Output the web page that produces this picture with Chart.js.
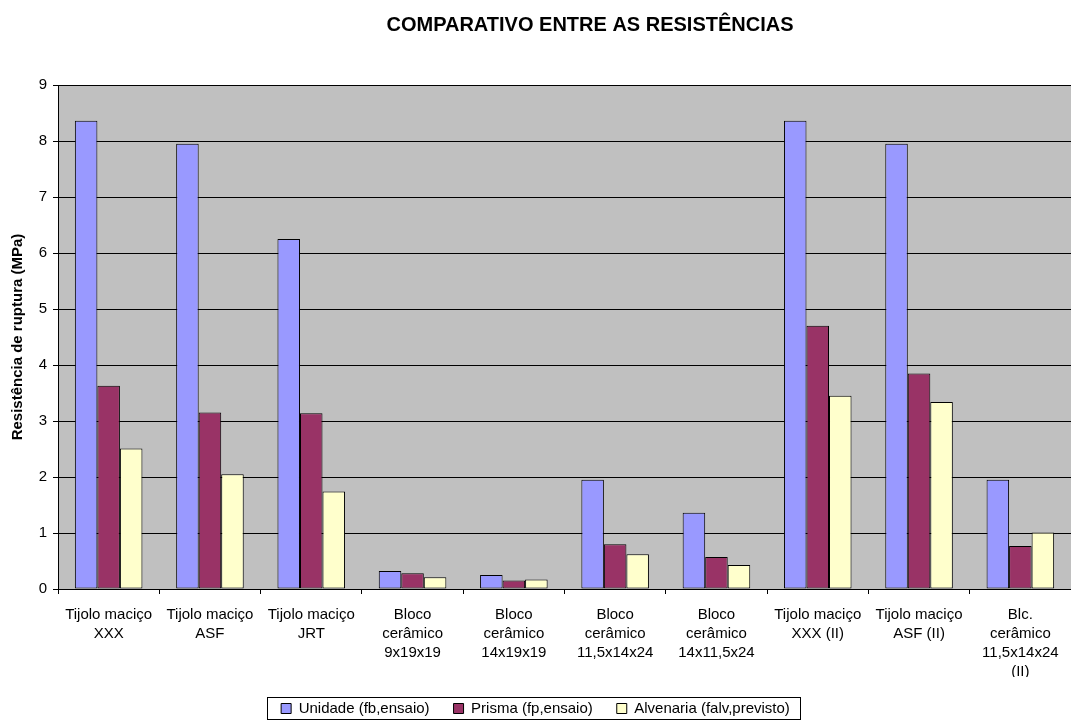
<!DOCTYPE html>
<html>
<head>
<meta charset="utf-8">
<script src="https://cdn.jsdelivr.net/npm/chart.js@4.4.0/dist/chart.umd.min.js"></script>
<style>
  body { margin: 0; background: #fff; }
  canvas { display: block; }
</style>
</head>
<body>
<canvas id="chart" width="1071" height="723"></canvas>
<script>
// data
const categories = [
  ["Tijolo maciço", "XXX"],
  ["Tijolo maciço", "ASF"],
  ["Tijolo maciço", "JRT"],
  ["Bloco", "cerâmico", "9x19x19"],
  ["Bloco", "cerâmico", "14x19x19"],
  ["Bloco", "cerâmico", "11,5x14x24"],
  ["Bloco", "cerâmico", "14x11,5x24"],
  ["Tijolo maciço", "XXX (II)"],
  ["Tijolo maciço", "ASF (II)"],
  ["Blc.", "cerâmico", "11,5x14x24", "(II)"]
];
const unidade = [8.36, 7.95, 6.25, 0.32, 0.25, 1.95, 1.36, 8.36, 7.95, 1.95];
const prisma = [3.63, 3.15, 3.14, 0.28, 0.15, 0.80, 0.57, 4.70, 3.85, 0.77];
const alvenaria = [2.51, 2.05, 1.74, 0.21, 0.17, 0.62, 0.43, 3.45, 3.34, 1.01];
const seriesNames = ["Unidade (fb,ensaio)", "Prisma (fp,ensaio)", "Alvenaria (falv,previsto)"];
const yMin = 0, yMax = 9, yStep = 1;

const titleText = "COMPARATIVO ENTRE AS RESISTÊNCIAS";
const yTitle = "Resistência de ruptura (MPa)";

const FONT = "'Liberation Sans', Arial, sans-serif";

// gray plot background
const plotBg = {
  id: 'plotBg',
  beforeDraw(chart) {
    const a = chart.chartArea, ctx = chart.ctx;
    ctx.save();
    ctx.fillStyle = '#C0C0C0';
    ctx.fillRect(a.left, a.top, a.right - a.left, a.bottom - a.top);
    ctx.restore();
  }
};

// title + legend frame
const extras = {
  id: 'extras',
  afterDraw(chart) {
    const ctx = chart.ctx;
    ctx.save();
    ctx.fillStyle = '#000';
    ctx.font = "bold 20px " + FONT;
    ctx.textAlign = 'center';
    ctx.textBaseline = 'middle';
    ctx.fillText(titleText, 590, 25);

    const boxes = chart.legend.legendHitBoxes;
    if (boxes && boxes.length) {
      let l = Infinity, r = -Infinity, t = Infinity, b = -Infinity;
      boxes.forEach(h => {
        l = Math.min(l, h.left); r = Math.max(r, h.left + h.width);
        t = Math.min(t, h.top); b = Math.max(b, h.top + h.height);
      });
      ctx.strokeStyle = '#000';
      ctx.lineWidth = 1;
      l = Math.round(l - 14); r = Math.round(r + 10);
      ctx.strokeRect(l + 0.5, Math.round(t - 4) + 0.5, r - l, Math.round(b - t + 7));
    }
    ctx.restore();
  }
};

const data = {
  labels: categories,
  datasets: [
    { label: seriesNames[0], data: unidade, backgroundColor: '#9999FF' },
    { label: seriesNames[1], data: prisma, backgroundColor: '#993366' },
    { label: seriesNames[2], data: alvenaria, backgroundColor: '#FFFFCC' }
  ].map(d => Object.assign(d, {
    borderColor: '#000',
    borderWidth: 1,
    borderSkipped: false,
    categoryPercentage: 0.667,
    barPercentage: 1.0
  }))
};

const config = {
  type: 'bar',
  data,
  options: {
    responsive: false,
    animation: false,
    events: [],
    layout: { padding: { top: 85, right: 0, left: 0, bottom: -3 } },
    plugins: {
      title: { display: false },
      tooltip: { enabled: false },
      legend: {
        position: 'bottom',
        labels: {
          color: '#000',
          font: { family: FONT, size: 15 },
          boxWidth: 10,
          boxHeight: 10,
          padding: 24
        }
      }
    },
    scales: {
      x: {
        afterFit(scale) { scale.height = 88; },
        grid: {
          offset: true,
          drawOnChartArea: false,
          drawTicks: true,
          tickLength: 5,
          color: '#000'
        },
        border: { color: '#000', width: 1 },
        ticks: {
          color: '#000',
          font: { family: FONT, size: 15, lineHeight: 1.27 },
          maxRotation: 0,
          minRotation: 0,
          autoSkip: false,
          padding: 11
        }
      },
      y: {
        min: yMin,
        max: yMax,
        afterFit(scale) { scale.width = 58; },
        grid: {
          color: '#000',
          lineWidth: 1,
          drawTicks: true,
          tickLength: 5
        },
        border: { color: '#000', width: 1 },
        ticks: {
          stepSize: yStep,
          color: '#000',
          font: { family: FONT, size: 15 },
          padding: 6
        },
        title: {
          display: true,
          text: yTitle,
          color: '#000',
          font: { family: FONT, size: 15, weight: 'bold' },
          padding: { top: 9, bottom: 0 }
        }
      }
    }
  },
  plugins: [plotBg, extras]
};

const chart = new Chart(document.getElementById('chart'), config);
</script>
</body>
</html>
